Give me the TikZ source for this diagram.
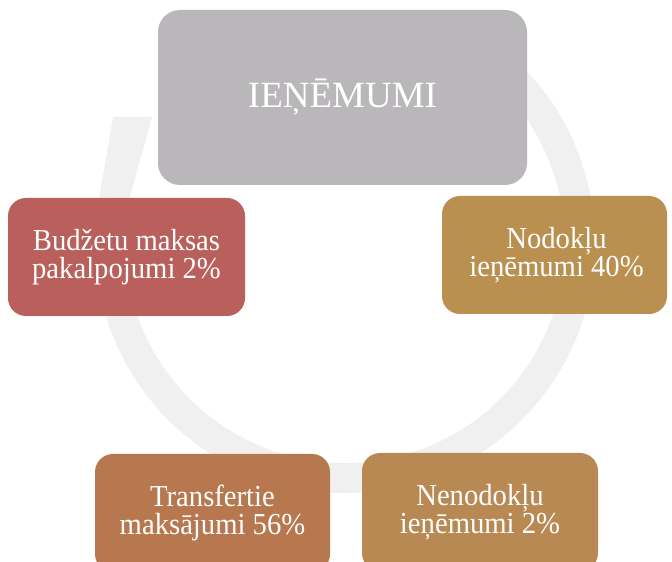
\documentclass[tikz,border=0pt]{standalone}
\usepackage{fontspec}
\setmainfont{Liberation Serif}
\newfontfamily\boxfont[FakeStretch=0.94]{Liberation Serif}
\usetikzlibrary{calc}
\definecolor{ringgray}{HTML}{F0F0F0}
\definecolor{topgray}{HTML}{B9B7B9}
\definecolor{budred}{HTML}{B9605C}
\definecolor{nodgold}{HTML}{B99050}
\definecolor{transbrown}{HTML}{B7774F}
\definecolor{nenodbrown}{HTML}{B98953}
\begin{document}
\begin{tikzpicture}[x=1pt,y=1pt,
  box/.style={rounded corners=18pt, inner sep=0pt, align=center, text=white,
    minimum width=237pt, minimum height=118pt,
    font=\boxfont\fontsize{30.5}{28.5}\selectfont},
  ring/.style={ringgray, line width=30pt}
]
\useasboundingbox (0,0) rectangle (672,562);
\clip (0,0) rectangle (672,562);
\fill[white] (0,0) rectangle (672,562);
% cycle ring behind the boxes
\coordinate (c) at (345,319);
\draw[ring] ($(c)+(60:235pt)$) arc[start angle=60, end angle=-192.2, radius=235pt];
\coordinate (tipL) at (113,445);
\coordinate (tipR) at (152,445);
\fill[ringgray] ($(c)+(167.8:250pt)$) -- (tipL) -- (tipR) -- ($(c)+(167.8:220pt)$) -- cycle;
% boxes
\node[box, fill=topgray, minimum width=369pt, minimum height=175pt, rounded corners=22pt,
  font=\fontsize{37}{42}\selectfont] (top) at (342.5,464.5) {IEŅĒMUMI};
\node[box, fill=budred] (bud) at (126.5,305) {Budžetu maksas\\pakalpojumi 2\%};
\node[box, fill=nodgold, minimum width=225pt] (nod) at (554.5,307) {\hspace*{4pt}Nodokļu\\\hspace*{4pt}ieņēmumi 40\%};
\node[box, fill=transbrown, minimum width=235pt] (trans) at (212.5,49) {Transfertie\\maksājumi 56\%};
\node[box, fill=nenodbrown, minimum width=236pt] (nenod) at (480,50) {Nenodokļu\\ieņēmumi 2\%};
\end{tikzpicture}
\end{document}
